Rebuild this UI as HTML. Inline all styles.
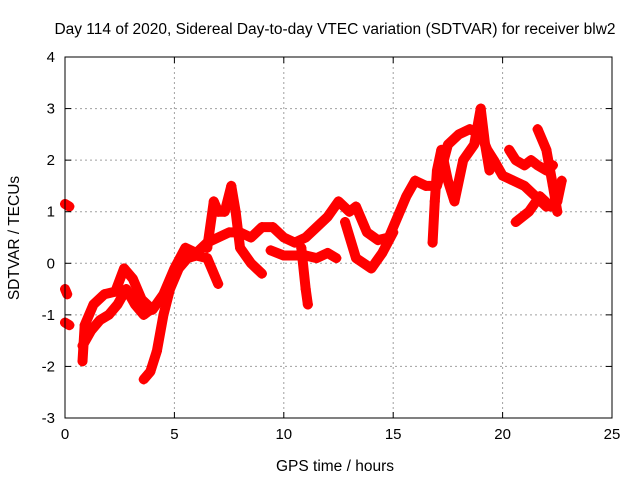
<!DOCTYPE html>
<html><head><meta charset="utf-8"><style>
body{margin:0;background:#fff;}
svg{display:block;font-family:"Liberation Sans",sans-serif;}
</style></head><body>
<svg id="chart" width="640" height="480">
<rect width="640" height="480" fill="#fff"/>
<text x="335" y="34" font-size="15.5" text-anchor="middle">Day 114 of 2020, Sidereal Day-to-day VTEC variation (SDTVAR) for receiver blw2</text>
<text x="335" y="471" font-size="15.5" text-anchor="middle">GPS time / hours</text>
<text transform="translate(19,238) rotate(-90)" font-size="15.5" text-anchor="middle">SDTVAR / TECUs</text>
<g id="grid"></g><g id="marks"></g><g id="axes"></g>
</svg>
<script>
const xTicks=[0,5,10,15,20,25];
const yTicks=[-3,-2,-1,0,1,2,3,4];
const trackMain=[[0.8,-1.9],[0.9,-1.2],[1.3,-0.8],[1.8,-0.6],[2.3,-0.55],[2.7,-0.1],[3.1,-0.3],[3.5,-0.7],[4.0,-0.9],[4.5,-0.6],[5.0,-0.1],[5.5,0.3],[6.0,0.2],[6.5,0.4],[7.0,0.5],[7.5,0.6],[8.0,0.6],[8.5,0.5],[9.0,0.7],[9.5,0.7],[10.0,0.5],[10.5,0.4],[11.0,0.5],[11.5,0.7],[12.0,0.9],[12.5,1.2],[13.0,1.0],[13.3,1.1],[13.8,0.6],[14.3,0.45],[14.8,0.5],[15.2,0.9],[15.6,1.3],[16.0,1.6]];
const trackLow1=[[0.8,-1.6],[1.2,-1.3],[1.6,-1.1],[2.0,-1.0],[2.4,-0.8],[2.8,-0.5],[3.2,-0.8],[3.6,-1.0],[3.9,-0.9]];
const trackRise=[[3.6,-2.25],[3.9,-2.1],[4.2,-1.7],[4.5,-1.0],[4.8,-0.5],[5.2,-0.1],[5.6,0.1],[6.0,0.15],[6.5,0.1],[7.0,-0.4]];
const trackSpike1=[[6.5,0.3],[6.8,1.2],[7.0,1.0],[7.3,1.0],[7.6,1.5],[7.8,1.0],[8.0,0.3],[8.5,0.0],[9.0,-0.2]];
const trackB=[[9.4,0.25],[10.0,0.15],[10.5,0.15],[11.0,0.15],[11.5,0.1],[12.0,0.2],[12.4,0.1]];
const trackV=[[12.8,0.8],[13.3,0.1],[14.0,-0.1],[14.5,0.2],[15.0,0.6]];
const trackSpike2=[[10.8,0.3],[11.0,-0.5],[11.1,-0.8]];
const trackLate=[[16.0,1.6],[16.5,1.5],[17.0,1.5],[17.5,2.3],[18.0,2.5],[18.5,2.6],[19.0,2.5],[19.3,2.2],[19.6,2.0],[20.0,1.7],[20.5,1.6],[21.0,1.5],[21.5,1.3],[22.0,1.1],[22.5,1.2],[22.7,1.6]];
const trackLate2=[[16.8,0.4],[16.9,1.2],[17.0,1.8],[17.2,2.2],[17.5,1.6],[17.8,1.2],[18.2,2.0],[18.7,2.3],[19.0,3.0],[19.2,2.3],[19.4,1.8]];
const trackLate3=[[20.3,2.2],[20.6,2.0],[21.0,1.9],[21.3,2.0],[21.6,1.9],[22.0,1.8],[22.3,1.9]];
const trackLate4=[[21.6,2.6],[22.0,2.2],[22.3,1.5],[22.5,1.0]];
const trackLate5=[[20.6,0.8],[21.2,1.0],[21.7,1.3],[22.2,1.1]];
const trackStart=[[0.0,1.15],[0.2,1.1]];
const trackStart2=[[0.0,-0.5],[0.1,-0.6]];
const trackStart3=[[0.0,-1.15],[0.2,-1.2]];
const tracks=[trackMain,trackLow1,trackRise,trackSpike1,trackB,trackV,trackSpike2,trackLate,trackLate2,trackLate3,trackLate4,trackLate5,trackStart,trackStart2,trackStart3];
const X0=65,X1=612,Y0=418,Y1=57;
const sx=v=>X0+(v-0)/25*(X1-X0);
const sy=v=>Y0-(v+3)/7*(Y0-Y1);
const NS='http://www.w3.org/2000/svg';
const grid=document.getElementById('grid'),axes=document.getElementById('axes'),marks=document.getElementById('marks');
function mk(t,a,p){const e=document.createElementNS(NS,t);for(const k in a)e.setAttribute(k,a[k]);p.appendChild(e);return e;}
xTicks.forEach(t=>{const x=sx(t);
 if(t>0&&t<25){const g=mk('line',{x1:x,x2:x,y1:Y1,y2:Y0,stroke:'#a0a0a0','stroke-dasharray':'2,3'},grid);
 
 }
 const l=mk('text',{x:x,y:Y0+21,'font-size':15,'text-anchor':'middle'},axes);l.textContent=t;
 
 
 mk('line',{x1:x,x2:x,y1:Y0,y2:Y0-6,stroke:'#000'},axes);mk('line',{x1:x,x2:x,y1:Y1,y2:Y1+6,stroke:'#000'},axes);});
yTicks.forEach(t=>{const y=sy(t);
 if(t>-3&&t<4){const g=mk('line',{x1:X0,x2:X1,y1:y,y2:y,stroke:'#a0a0a0','stroke-dasharray':'2,3'},grid);
 
 }
 const l=mk('text',{x:X0-10,y:y+5,'font-size':15,'text-anchor':'end'},axes);l.textContent=t;
 
 
 mk('line',{x1:X0,x2:X0+6,y1:y,y2:y,stroke:'#000'},axes);mk('line',{x1:X1,x2:X1-6,y1:y,y2:y,stroke:'#000'},axes);});
const fr=mk('rect',{x:X0,y:Y1,width:X1-X0,height:Y0-Y1,fill:'none',stroke:'#000'},axes);


tracks.forEach(tr=>{
 const pl=mk('polyline',{points:tr.map(p=>sx(p[0])+','+sy(p[1])).join(' '),fill:'none',stroke:'#ff0000','stroke-width':10,'stroke-linejoin':'round','stroke-linecap':'round'},marks);
 
 
 tr.forEach(p=>{const x=sx(p[0]),y=sy(p[1]);
  const m=mk('path',{d:`M${x-5},${y}h10M${x},${y-5}v10`,stroke:'#ff0000','stroke-width':2},marks);
  
  });
});
</script>
</body></html>
